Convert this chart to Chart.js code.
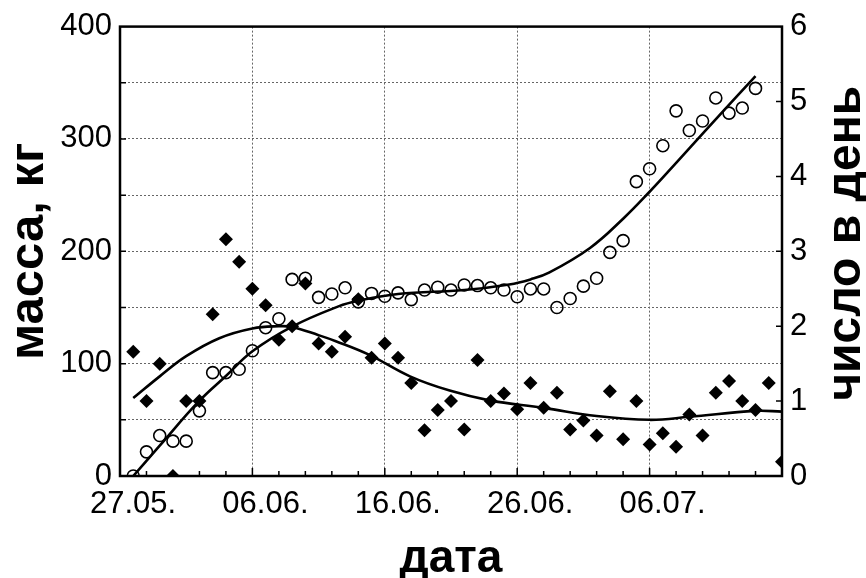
<!DOCTYPE html>
<html>
<head>
<meta charset="utf-8">
<script src="https://cdn.jsdelivr.net/npm/chart.js@4.4.0/dist/chart.umd.min.js"></script>
<style>
  html, body { margin: 0; padding: 0; background: #fff; }
  canvas { display: block; }
</style>
</head>
<body>
<canvas id="chart" width="866" height="578"></canvas>
<script>
// дни от 27.05.
const xTickLabels = ['27.05.', '06.06.', '16.06.', '26.06.', '06.07.'];

// масса, кг (кружки)
const massDays = [1, 2, 3, 4, 5, 6, 7, 8, 9, 10, 11, 12, 13, 14, 15, 16, 17, 18, 19, 20, 21, 22, 23, 24,
  25, 26, 27, 28, 29, 30, 31, 32, 33, 34, 35, 36, 37, 38, 39, 40, 41, 42, 43, 44, 45, 46, 47, 48];
const massKg = [0, 21.5, 36, 31, 31, 58, 92, 92, 95, 111.5, 132, 140, 175, 176, 159, 162, 167.5, 155,
  162.5, 160, 163, 157, 165.5, 168, 165.5, 170, 169.5, 167.5, 165.5, 159.5, 166.5, 166.5, 150, 158,
  169, 176, 199, 209.5, 262, 273.5, 294, 325, 307.5, 316, 336.5, 323, 327.5, 345];

// число в день (ромбы)
const countDays = [1, 2, 3, 4, 5, 6, 7, 8, 9, 10, 11, 12, 13, 14, 15, 16, 17, 18, 19, 20, 21, 22, 23, 24, 25,
  26, 27, 28, 29, 30, 31, 32, 33, 34, 35, 36, 37, 38, 39, 40, 41, 42, 43, 44, 45, 46, 47, 48, 49, 50];
const countPerDay = [1.66, 1.0, 1.5, 0, 1.0, 1.0, 2.16, 3.16, 2.86, 2.5, 2.28, 1.82, 2.0, 2.57, 1.77,
  1.66, 1.86, 2.36, 1.58, 1.77, 1.58, 1.24, 0.61, 0.88, 1.0, 0.62, 1.55, 1.0, 1.1, 0.89, 1.24, 0.91,
  1.11, 0.62, 0.74, 0.54, 1.13, 0.49, 1.0, 0.42, 0.57, 0.39, 0.82, 0.54, 1.11, 1.27, 1.0, 0.88, 1.24, 0.19];

// сглаживающие кривые
const massFitDays = [1, 3, 6, 8, 10, 13, 16.5, 18, 21, 26, 29.4, 31, 32.4, 35.5, 38, 40, 41.8, 44.3, 48];
const massFit = [0, 27, 67, 89, 111, 133, 151, 156, 162, 165.5, 170.5, 175, 181, 203, 229, 253, 276, 308.5, 356];
const countFitDays = [1, 3, 5, 7.5, 10, 12, 13, 15, 16.3, 18.8, 21.9, 24.9, 27.9, 32, 36, 40, 43, 48, 50];
const countFit = [1.04, 1.33, 1.6, 1.84, 1.97, 2.0, 1.99, 1.88, 1.80, 1.62, 1.33, 1.14, 1.01, 0.91,
  0.80, 0.75, 0.79, 0.87, 0.86];

const pts = (xs, ys) => xs.map((x, i) => ({ x: x, y: ys[i] }));
const tickFont = { family: '"Liberation Sans", Arial, sans-serif', size: 31 };
const titleFont = '"Liberation Sans", Arial, sans-serif';

// рамка, внутренние засечки и подписи осей
const frame = {
  id: 'frame',
  afterDatasetsDraw(chart) {
    const { ctx, chartArea: a, scales } = chart;
    ctx.save();
    ctx.strokeStyle = '#000';
    ctx.lineWidth = 1.5;
    ctx.beginPath();
    for (let d = 2; d < 50; d += 2) {
      const x = scales.x.getPixelForValue(d);
      ctx.moveTo(x, a.bottom);
      ctx.lineTo(x, a.bottom - (d % 10 === 0 ? 8 : 5));
    }
    for (let v = 50; v < 400; v += 50) {
      const y = scales.y.getPixelForValue(v);
      ctx.moveTo(a.left, y);
      ctx.lineTo(a.left + 6, y);
    }
    for (let v = 1; v < 6; v++) {
      const y = scales.y2.getPixelForValue(v);
      ctx.moveTo(a.right, y);
      ctx.lineTo(a.right - 6, y);
    }
    ctx.stroke();

    ctx.lineWidth = 2.5;
    ctx.strokeRect(a.left, a.top, a.right - a.left, a.bottom - a.top);

    ctx.fillStyle = '#000';
    ctx.textAlign = 'center';
    ctx.textBaseline = 'alphabetic';
    ctx.font = 'bold 46px ' + titleFont;
    ctx.fillText('дата', (a.left + a.right) / 2, 572);

    ctx.font = 'bold 49px ' + titleFont;
    ctx.save();
    ctx.translate(43, (a.top + a.bottom) / 2);
    ctx.rotate(-Math.PI / 2);
    ctx.fillText('масса, кг', 0, 0);
    ctx.restore();

    ctx.font = 'bold 48px ' + titleFont;
    ctx.save();
    ctx.translate(860, (a.top + a.bottom) / 2 - 8);
    ctx.rotate(-Math.PI / 2);
    ctx.fillText('число в день', 0, 0);
    ctx.restore();
    ctx.restore();
  }
};

new Chart(document.getElementById('chart'), {
  type: 'scatter',
  data: {
    datasets: [
      {
        label: 'масса',
        data: pts(massDays, massKg),
        yAxisID: 'y',
        pointStyle: 'circle',
        pointRadius: 6,
        borderWidth: 1.6,
        borderColor: '#000',
        backgroundColor: 'rgba(0,0,0,0)'
      },
      {
        label: 'число',
        data: pts(countDays, countPerDay),
        yAxisID: 'y2',
        pointStyle: 'rectRot',
        pointRadius: 7,
        borderWidth: 0,
        borderColor: '#000',
        backgroundColor: '#000'
      },
      {
        label: 'масса (тренд)',
        data: pts(massFitDays, massFit),
        yAxisID: 'y',
        showLine: true,
        pointRadius: 0,
        borderWidth: 2.6,
        borderColor: '#000',
        tension: 0.4
      },
      {
        label: 'число (тренд)',
        data: pts(countFitDays, countFit),
        yAxisID: 'y2',
        showLine: true,
        pointRadius: 0,
        borderWidth: 2.6,
        borderColor: '#000',
        tension: 0.4
      }
    ]
  },
  options: {
    responsive: false,
    animation: false,
    devicePixelRatio: 1,
    layout: { padding: { top: 24, left: 0, right: 0, bottom: 0 } },
    plugins: { legend: { display: false }, tooltip: { enabled: false } },
    scales: {
      x: {
        type: 'linear',
        min: 0,
        max: 50,
        afterFit: s => { s.height = 102; },
        ticks: {
          stepSize: 10,
          color: '#000',
          font: tickFont,
          padding: 10,
          labelOffset: 13,
          maxRotation: 0,
          callback: (v) => xTickLabels[v / 10] || ''
        },
        grid: { color: '#666', lineWidth: 1, drawTicks: false },
        border: { display: false, dash: [2, 2] }
      },
      y: {
        position: 'left',
        min: 0,
        max: 400,
        afterFit: s => { s.width = 120; },
        ticks: {
          stepSize: 50,
          color: '#000',
          font: tickFont,
          padding: 8,
          callback: (v) => (v % 100 === 0 ? v : '')
        },
        grid: { color: '#666', lineWidth: 1, drawTicks: false },
        border: { display: false, dash: [2, 2] }
      },
      y2: {
        position: 'right',
        min: 0,
        max: 6,
        afterFit: s => { s.width = 84; },
        ticks: { stepSize: 1, color: '#000', font: tickFont, padding: 8 },
        grid: { display: false, drawTicks: false },
        border: { display: false }
      }
    }
  },
  plugins: [frame]
});
</script>
</body>
</html>
